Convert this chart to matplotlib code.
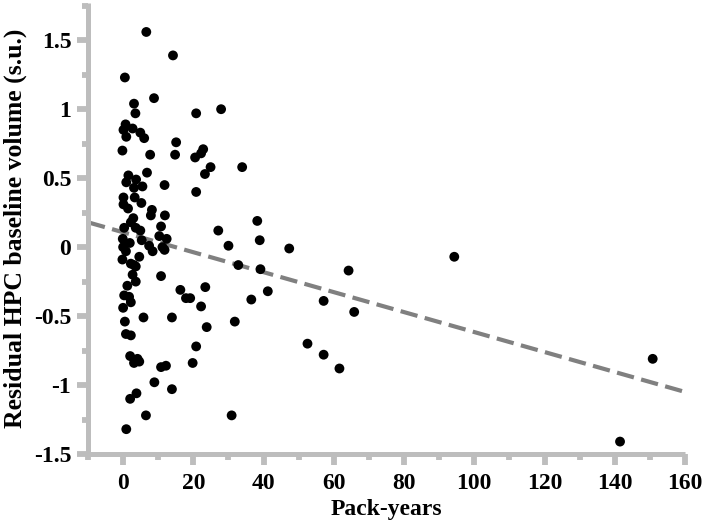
import matplotlib
matplotlib.use("Agg")
import matplotlib.pyplot as plt
from matplotlib.ticker import MultipleLocator, FuncFormatter

# ---- data ----
pack_years = [
    6.6, 14.2, 0.5, 8.8, 3.1, 3.5, 20.8, 27.9, 0.7, 0.1,
    2.7, 4.9, 0.9, 6.0, 15.1, -0.2, 7.7, 14.8, 22.8, 22.2,
    20.5, 24.9, 23.3, 33.9, 1.5, 6.8, 3.7, 0.9, 5.5, 11.8,
    20.8, 3.3, 0.1, 0.1, 1.4, 5.2, 8.2, 7.9, 11.9, 38.2,
    2.9, 2.2, 0.3, 4.9, 10.8, 27.1, 38.9, 30.0, -0.1, 1.9,
    5.3, 10.3, 12.4, 7.4, 11.8, 0.8, 4.6, 3.6, 0.0, 8.4,
    -0.2, 2.2, 3.6, 2.7, 3.6, 10.8, 1.2, 0.3, 1.7, 2.2,
    0.0, 16.3, 17.9, 19.1, 23.4, 22.2, 23.8, 0.5, 5.8, 13.9,
    0.8, 2.2, 20.8, 2.0, 4.1, 3.1, 4.6, 19.8, 10.8, 12.2,
    8.9, 13.9, 2.0, 3.8, 6.5, 0.9, 30.9, 31.8, 36.5, 41.2,
    32.8, 39.1, 47.3, 64.2, 94.3, 57.1, 65.8, 52.5, 57.1, 61.6,
    150.8, 141.5, 3.1, 3.1, 11.2,
]
residual_volume = [
    1.56, 1.39, 1.23, 1.08, 1.04, 0.97, 0.97, 1.00, 0.89, 0.85,
    0.86, 0.83, 0.80, 0.79, 0.76, 0.70, 0.67, 0.67, 0.71, 0.68,
    0.65, 0.58, 0.53, 0.58, 0.52, 0.54, 0.49, 0.47, 0.44, 0.45,
    0.40, 0.36, 0.36, 0.31, 0.28, 0.32, 0.27, 0.23, 0.23, 0.19,
    0.21, 0.18, 0.14, 0.12, 0.15, 0.12, 0.05, 0.01, 0.06, 0.03,
    0.05, 0.08, 0.06, 0.01, -0.02, -0.03, -0.07, 0.14, 0.00, -0.03,
    -0.09, -0.12, -0.14, -0.20, -0.25, -0.21, -0.28, -0.35, -0.36, -0.40,
    -0.44, -0.31, -0.37, -0.37, -0.29, -0.43, -0.58, -0.54, -0.51, -0.51,
    -0.63, -0.64, -0.72, -0.79, -0.81, -0.84, -0.83, -0.84, -0.87, -0.86,
    -0.98, -1.03, -1.10, -1.06, -1.22, -1.32, -1.22, -0.54, -0.38, -0.32,
    -0.13, -0.16, -0.01, -0.17, -0.07, -0.39, -0.47, -0.70, -0.78, -0.88,
    -0.81, -1.41, 0.43, -0.13, 0.00,
]

# fitted regression line (endpoints)
fit_x = [-10, 160]
fit_y = [0.18, -1.05]

x_ticks = [0, 20, 40, 60, 80, 100, 120, 140, 160]
y_ticks = [-1.5, -1, -0.5, 0, 0.5, 1, 1.5]
x_label = "Pack-years"
y_label = "Residual HPC baseline volume (s.u.)"

# ---- style ----
plt.rcParams['font.family'] = ['Liberation Serif', 'DejaVu Serif']
plt.rcParams['font.weight'] = 'bold'
plt.rcParams['axes.unicode_minus'] = False

spine_color = '#bdbdbd'
W, H = 708, 529
fig = plt.figure(figsize=(W / 100, H / 100), dpi=100)
ax = fig.add_axes([88 / W, 1 - 454 / H, (685 - 88) / W, (454 - 3) / H])

ax.plot(fit_x, fit_y, color='#808080', lw=3.0, dashes=(4.2, 1.8), zorder=2)
ax.scatter(pack_years, residual_volume, s=50, color='black', edgecolors='none', zorder=3)

ax.set_xlim(-10, 160)
ax.set_ylim(-1.5, 1.77)

for side in ('top', 'right'):
    ax.spines[side].set_visible(False)
for side in ('left', 'bottom'):
    ax.spines[side].set_color(spine_color)
    ax.spines[side].set_linewidth(3.6)
    ax.spines[side].set_capstyle('butt')

ax.set_xticks(x_ticks)
ax.set_yticks(y_ticks)
ax.xaxis.set_minor_locator(MultipleLocator(10))
ax.yaxis.set_minor_locator(MultipleLocator(0.25))
fmt = FuncFormatter(lambda v, p: '{:g}'.format(v))
ax.xaxis.set_major_formatter(fmt)
ax.yaxis.set_major_formatter(fmt)

ax.tick_params(which='major', length=8, width=4.2, color=spine_color,
               labelsize=17, pad=4)
ax.tick_params(axis='x', which='major', pad=6)
ax.tick_params(which='minor', length=4.5, width=4.2, color=spine_color)
for lab in ax.get_xticklabels() + ax.get_yticklabels():
    lab.set_fontweight('bold')

ax.set_xlabel(x_label, fontsize=17, fontweight='bold', labelpad=3)
ax.set_ylabel(y_label, fontsize=18.5, fontweight='bold', labelpad=5)

fig.savefig('out.png', dpi=100)
